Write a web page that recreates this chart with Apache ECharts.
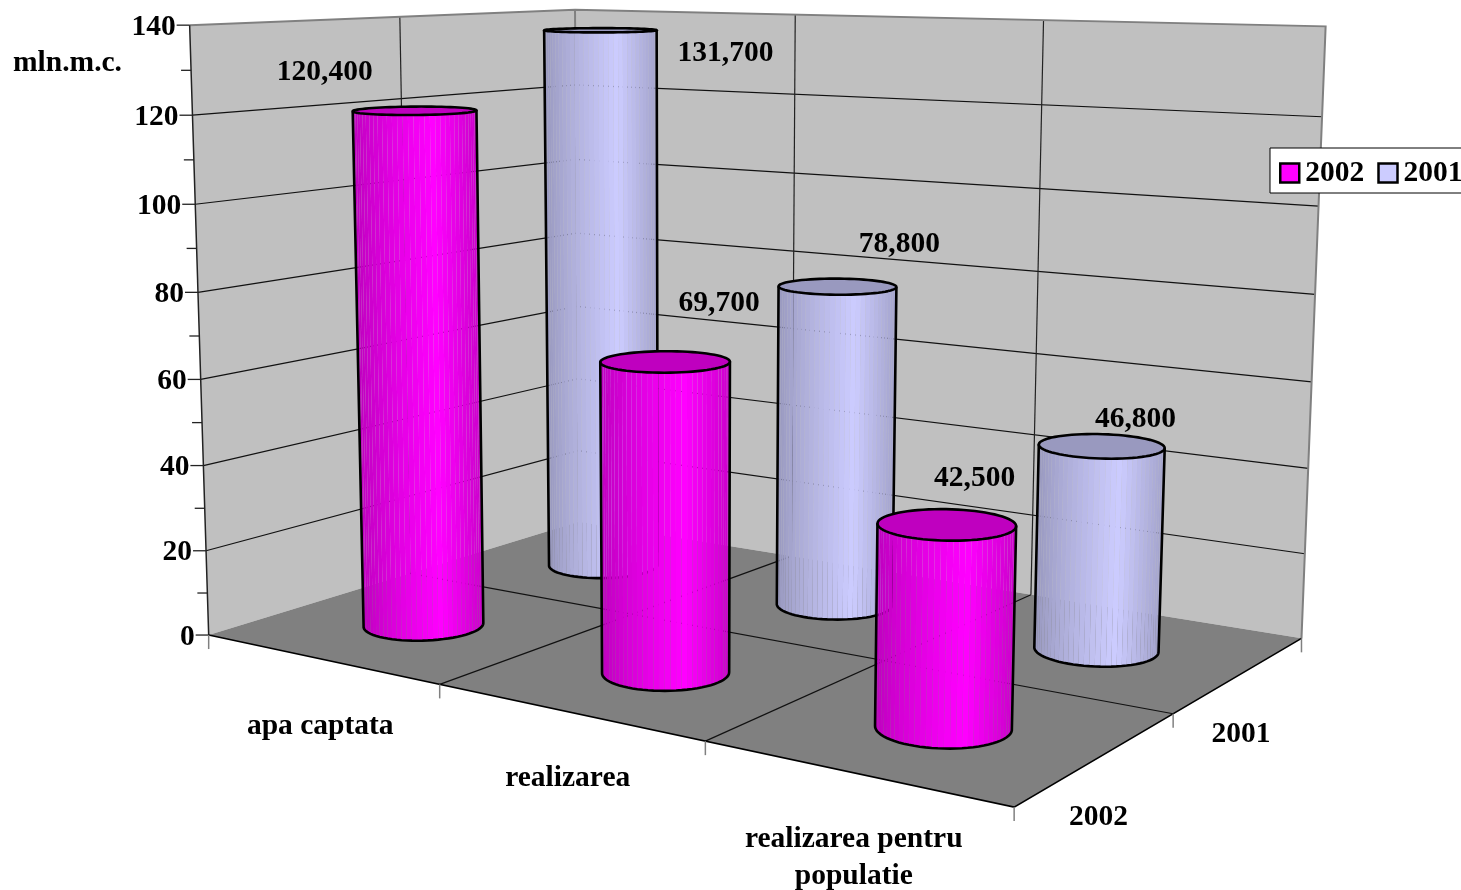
<!DOCTYPE html>
<html><head><meta charset="utf-8">
<style>html,body{margin:0;padding:0;background:#fff;overflow:hidden}#c{width:1461px;height:890px}</style>
<script src="https://cdn.jsdelivr.net/npm/echarts@6/dist/echarts.min.js"></script>
</head><body><div id="c"></div>
<script>
const categories = ['apa captata', 'realizarea', 'realizarea pentru\npopulatie'];
const depthNames = ['2002', '2001'];
// bar heights as drawn in the picture (on the 0-140 axis)
const heights2002 = [120.4, 69.2, 42.5];
const heights2001 = [136.4, 77.6, 47.0];
// printed data labels
const labels2002 = ['120,400', '69,700', '42,500'];
const labels2001 = ['131,700', '78,800', '46,800'];
const yTicks = [0, 20, 40, 60, 80, 100, 120, 140];
const yMinorTicks = [10, 30, 50, 70, 90, 110, 130];
const yUnit = 'mln.m.c.';

// camera calibration: world (X, Z, Y fractions) -> screen
const CALIB = [
  [0,0,0,210,636],[1,0,0,1013,808],[1,1,0,1303,637],[0,1,0,576,522],
  [0,0,1,188,25],[0,1,1,577,10],[1,1,1,1325,27],
  [0,0,1/7,207,551],[0,0,2/7,204,465],[0,0,3/7,201,379],[0,0,4/7,198,292],[0,0,5/7,195,204],[0,0,6/7,192,115]
];
function solveCamera(pts){
  const A=[],b=[];
  pts.forEach(([X,Z,Y,u,v])=>{
    A.push([X,Z,Y,1,0,0,0,0,-u*X,-u*Z,-u*Y]);b.push(u);
    A.push([0,0,0,0,X,Z,Y,1,-v*X,-v*Z,-v*Y]);b.push(v);
  });
  const n=11,M=[];
  for(let i=0;i<n;i++){M.push([]);for(let j=0;j<=n;j++){let s=0;
    for(let k=0;k<A.length;k++)s+=A[k][i]*(j<n?A[k][j]:b[k]);M[i].push(s);}}
  for(let i=0;i<n;i++){let p=i;for(let r=i+1;r<n;r++)if(Math.abs(M[r][i])>Math.abs(M[p][i]))p=r;
    [M[i],M[p]]=[M[p],M[i]];
    for(let r=0;r<n;r++){if(r===i)continue;const f=M[r][i]/M[i][i];for(let c=i;c<=n;c++)M[r][c]-=f*M[i][c];}}
  return M.map((row,i)=>row[n]/row[i]);
}
const CAM=solveCamera(CALIB);
function P(X,Z,Y){const w=CAM[8]*X+CAM[9]*Z+CAM[10]*Y+1;
  return [(CAM[0]*X+CAM[1]*Z+CAM[2]*Y+CAM[3])/w,(CAM[4]*X+CAM[5]*Z+CAM[6]*Y+CAM[7])/w];}

const FONT='"Liberation Serif","Times New Roman",serif';
const FS=29.5;
const TEXT_DY=2;
function txt(text,x,y,align,extra){return {type:'text',silent:true,style:Object.assign({text,x,y:y+TEXT_DY,fill:'#000',
  align:align||'center',verticalAlign:'middle',fontFamily:FONT,fontWeight:'bold',fontSize:FS},extra||{})};}
function poly(points,fill,stroke,lw){return {type:'polygon',silent:true,shape:{points},style:{fill,stroke:stroke||null,lineWidth:lw||0}};}
function line(points,stroke,lw){return {type:'polyline',silent:true,shape:{points},style:{fill:null,stroke,lineWidth:lw||1}};}
// value -> Y fraction and category -> X fraction through the chart's own scales
function fracs(api,cat,val){const p=api.coord([cat,val]);return [p[0]/api.getWidth(),1-p[1]/api.getHeight()];}

const WALL='#C0C0C0',FLOOR='#808080',GREY='#808080',INK='#000';
function renderFrame(params,api){
  const ch=[];
  const fy=v=>fracs(api,0,v)[1];
  ch.push(poly([P(0,0,0),P(0,1,0),P(0,1,1),P(0,0,1)],WALL));
  ch.push(poly([P(0,1,0),P(1,1,0),P(1,1,1),P(0,1,1)],WALL));
  ch.push(poly([P(0,0,0),P(1,0,0),P(1,1,0),P(0,1,0)],FLOOR));
  yTicks.slice(1,-1).forEach(v=>{const y=fy(v);ch.push(line([P(0,0,y),P(0,1,y),P(1,1,y)],'#111',1.2));});
  ch.push(line([P(0,.5,0),P(0,.5,1)],'#222',1.2));
  ch.push(line([P(0,1,0),P(0,1,1)],GREY,2));
  ch.push(line([P(1/3,1,0),P(1/3,1,1)],'#222',1.2));
  ch.push(line([P(2/3,1,0),P(2/3,1,1)],'#222',1.2));
  ch.push(line([P(1/3,0,0),P(1/3,1,0)],'#111',1.2));
  ch.push(line([P(2/3,0,0),P(2/3,1,0)],'#111',1.2));
  ch.push(line([P(0,.5,0),P(1,.5,0)],'#111',1.2));
  ch.push(line([P(0,0,1),P(0,1,1),P(1,1,1),P(1,1,0)],GREY,2));
  ch.push(line([P(0,0,0),P(0,0,1)],'#222',1.5));
  ch.push(line([P(0,0,0),P(1,0,0),P(1,1,0)],INK,1.6));
  // tick marks
  yTicks.forEach(v=>{const p=P(0,0,fy(v));ch.push(line([[p[0]-13,p[1]],p],'#222',1.3));
    ch.push(txt(String(v),p[0]-14,p[1],'right'));});
  yMinorTicks.forEach(v=>{const p=P(0,0,fy(v));ch.push(line([[p[0]-10,p[1]],p],'#222',1.3));});
  [0,1/3,2/3,1].forEach(x=>{const p=P(x,0,0);ch.push(line([p,[p[0],p[1]+14]],GREY,1.5));});
  [.5,1].forEach(z=>{const p=P(1,z,0);ch.push(line([p,[p[0],p[1]+14]],GREY,1.5));});
  // category & depth labels
  categories.forEach((c,i)=>{const p=P(fracs(api,i,0)[0],0,0);
    const parts=c.split('\n');
    parts.forEach((t,k)=>ch.push(txt(t,p[0],p[1]+65+k*37,'center')));});
  depthNames.forEach((d,i)=>{const p=P(1,(i+.5)/2,0);ch.push(txt(d,p[0]+.5,p[1]+58,'center'));});
  ch.push(txt(yUnit,13,61,'left'));
  return {type:'group',children:ch};
}

const RX=.0665,RZ=.0998,SEG=72;
function shade(f){return f<.65?.74+.26*Math.pow(f/.65,.8):1-.2*(f-.65)/.35;}
function mix(rgb,k){return 'rgb('+rgb.map(c=>Math.round(c*k)).join(',')+')';}
function cylinderRenderer(row,rgb,capK){
  return function(params,api){
    const cat=api.value(0),val=api.value(1);
    const f=fracs(api,cat,val),cx=f[0],cz=(row+.5)/2,h=f[1];
    const bot=[],top=[];
    for(let i=0;i<SEG;i++){const a=i/SEG*Math.PI*2;const X=cx+RX*Math.cos(a),Z=cz+RZ*Math.sin(a);
      bot.push(P(X,Z,0));top.push(P(X,Z,h));}
    const xs=top.map(p=>p[0]),xL=Math.min(...xs),xR=Math.max(...xs);
    const front=[];
    for(let i=0;i<SEG;i++){const j=(i+1)%SEG,q=[bot[i],bot[j],top[j],top[i]];let s=0;
      for(let k=0;k<4;k++){const a=q[k],b=q[(k+1)%4];s+=a[0]*b[1]-b[0]*a[1];}
      front.push(s);}
    // front-facing strips have the sign of the strip nearest the viewer (sin<0 side)
    const refSign=Math.sign(front[Math.round(SEG*.75)]);
    const ch=[];let start=0;
    for(let i=0;i<SEG;i++){const pv=(i+SEG-1)%SEG;
      if(Math.sign(front[i])===refSign&&Math.sign(front[pv])!==refSign)start=i;}
    const arc=[];
    for(let n=0;n<SEG;n++){const i=(start+n)%SEG;if(Math.sign(front[i])!==refSign)break;arc.push(i);}
    arc.forEach(i=>{const j=(i+1)%SEG;
      const ff=Math.max(0,Math.min(1,((top[i][0]+top[j][0])/2-xL)/(xR-xL)));
      ch.push(poly([bot[i],bot[j],top[j],top[i]],mix(rgb,shade(ff))));});
    ch.push(poly(top,mix(rgb,capK)));
    const first=arc[0],last=(arc[arc.length-1]+1)%SEG;
    const botArc=arc.map(i=>bot[i]);botArc.push(bot[last]);
    const outline=[top[first]].concat(botArc,[top[last]]);
    ch.push(line(outline,INK,2.6));
    ch.push(line(top.concat([top[0]]),INK,2.6));
    return {type:'group',children:ch};
  };
}

// label anchor shifts from the top-centre of each cylinder
const LABEL_SHIFT=[[[-90,-40],[54,-60],[28,-48]],[[125,21],[62,-44],[34,-29]]];
const LABEL_TEXT=[labels2002,labels2001];
function renderLabels(params,api){
  const cat=api.value(0),val=api.value(1),row=api.value(2);
  const f=fracs(api,cat,val),p=P(f[0],(row+.5)/2,f[1]),s=LABEL_SHIFT[row][cat];
  return txt(LABEL_TEXT[row][cat],p[0]+s[0],p[1]+s[1],'center');
}

const chart=echarts.init(document.getElementById('c'),null,{renderer:'canvas'});
chart.setOption({
  animation:false,
  backgroundColor:'#fff',
  grid:{left:0,right:0,top:0,bottom:0},
  xAxis:{type:'category',data:categories,show:false},
  yAxis:{type:'value',min:0,max:140,interval:20,show:false},
  legend:{left:1270,top:148,width:300,data:depthNames.map((d,i)=>({name:d,icon:'rect',
      itemStyle:{color:i?'#CCCCFF':'#FF00FF',borderColor:'#000',borderWidth:2.5}})),
    itemWidth:19,itemHeight:19,itemGap:13,selectedMode:false,z:20,padding:[10,10,5,9],
    backgroundColor:'#fff',borderColor:'#000',borderWidth:1,
    textStyle:{fontFamily:FONT,fontWeight:'bold',fontSize:FS,color:'#000',padding:[0,0,0,1]}},
  series:[
    {type:'custom',z:1,silent:true,clip:false,renderItem:renderFrame,data:[[0,0]],encode:{x:0,y:1}},
    {type:'custom',name:'2001',z:2,silent:true,clip:false,itemStyle:{color:'#CCCCFF'},renderItem:cylinderRenderer(1,[204,204,255],.75),
      data:heights2001.map((v,i)=>[i,v]),encode:{x:0,y:1}},
    {type:'custom',name:'2002',z:3,silent:true,clip:false,itemStyle:{color:'#FF00FF'},renderItem:cylinderRenderer(0,[255,0,255],.75),
      data:heights2002.map((v,i)=>[i,v]),encode:{x:0,y:1}},
    {type:'custom',z:4,silent:true,clip:false,renderItem:renderLabels,
      data:heights2002.map((v,i)=>[i,v,0]).concat(heights2001.map((v,i)=>[i,v,1])),encode:{x:0,y:1}}
  ]
});
</script></body></html>
